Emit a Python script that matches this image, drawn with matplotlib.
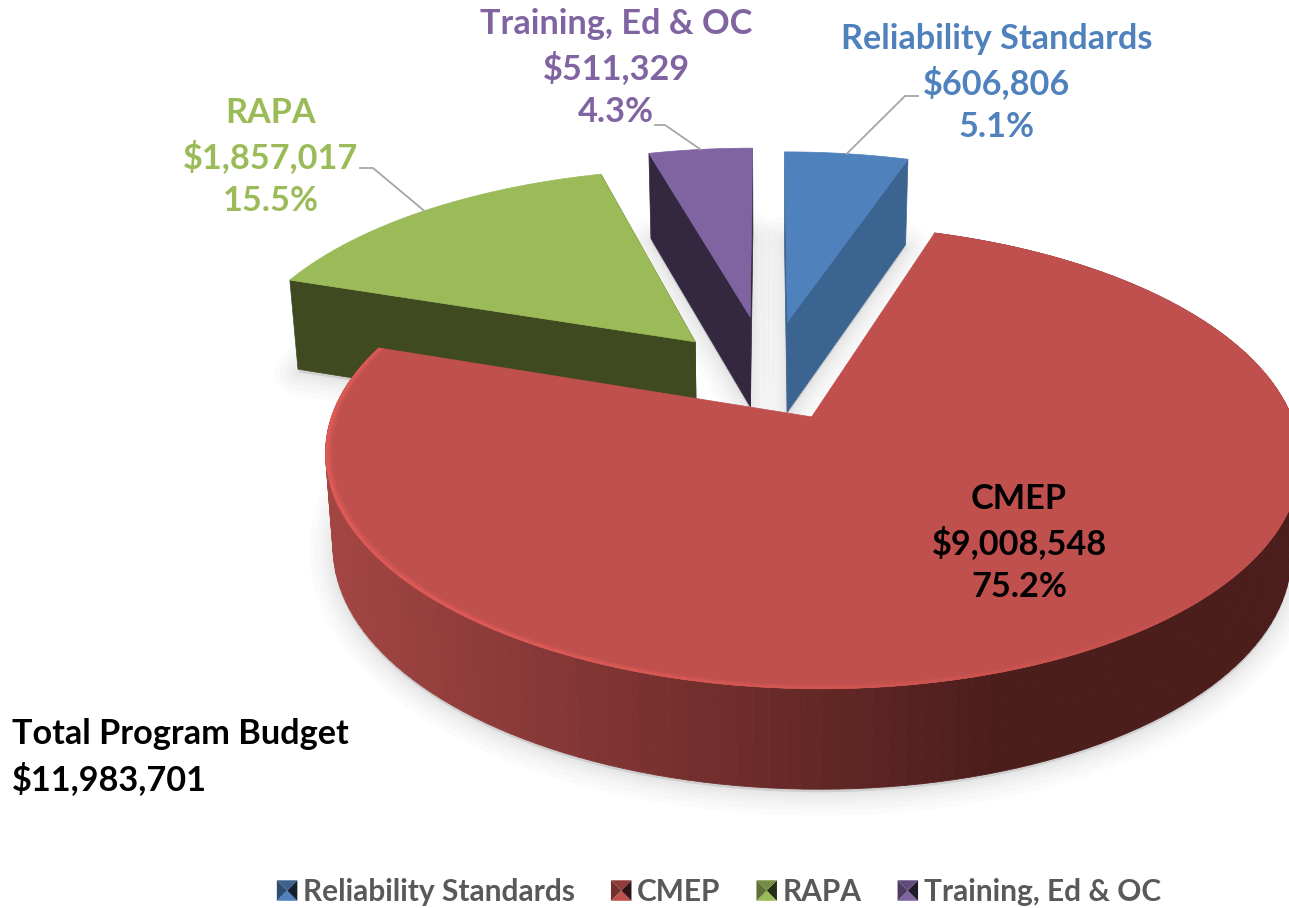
import numpy as np
import matplotlib
matplotlib.use("Agg")
import matplotlib.pyplot as plt
from matplotlib.patches import Polygon, Patch
from matplotlib.collections import PolyCollection
from matplotlib.legend_handler import HandlerBase
from matplotlib.colors import to_rgb

categories = ["Reliability Standards", "CMEP", "RAPA", "Training, Ed & OC"]
values = [606806, 9008548, 1857017, 511329]
total_label = "Total Program Budget\n$11,983,701"

top_colors = ["#4f81bd", "#c0504d", "#9bbb59", "#8064a2"]
side_colors = ["#3c6491", "#8a3836", "#404a20", "#33283f"]
label_colors = ["#4f81bd", "#000000", "#9bbb59", "#8064a2"]
explode = [0.27, 0.20, 0.23, 0.295]
radius = [1.0, 0.98, 0.985, 1.0]
label_pos = [(997, 83), (1019, 543), (271, 157), (616, 68)]
leader_elbow = [(905, 96), (665, 125), (373, 168)]
leader_end = [(918, 96), (655, 125), (360, 168)]

plt.rcParams["font.family"] = ["Lato", "DejaVu Sans"]
fig = plt.figure(figsize=(12.89, 9.08), dpi=100)
ax = fig.add_axes([0, 0, 1, 1])
ax.set_xlim(0, 1289)
ax.set_ylim(908, 0)
ax.axis("off")

CX, CY, RX, RY, K, DEPTH, TAPER = 768, 377, 475, 216, 0.17, 92, 0.017


def proj(x, y, h=0.0):
    x, y = np.asarray(x, float), np.asarray(y, float)
    w = 1 / (1 - K * y)
    return np.column_stack([CX + RX * x * w * (1 - TAPER * h),
                            CY + RY * y * w + DEPTH * h * w ** 0.4])


fractions = np.array(values) / sum(values)
edges = np.concatenate([[0], np.cumsum(fractions)]) * 2 * np.pi


def wedge(i, n=160):
    a0, a1 = edges[i], edges[i + 1]
    mid = (a0 + a1) / 2
    ex, ey = explode[i] * np.sin(mid), -explode[i] * np.cos(mid)
    th = np.linspace(a0, a1, n)
    return th, ex, ey


def outer(th, ex, ey, r=1.0, h=0.0):
    return proj(ex + r * np.sin(th), ey - r * np.cos(th), h)


def mix(c1, c2, t):
    c1, c2 = np.array(to_rgb(c1)), np.array(to_rgb(c2))
    return c1 + (c2 - c1) * t


def shadow(points, z):
    for lw in (34, 26, 19, 13, 8, 4):
        ax.add_patch(Polygon(points, closed=True, fc=(0, 0, 0, 0.016), ec=(0, 0, 0, 0.016),
                             lw=lw, joinstyle="round", zorder=z))


for i in range(4):
    th, ex, ey = wedge(i)
    base = np.vstack([proj([ex], [ey], 1.0), outer(th, ex, ey, r=radius[i], h=1.0)])
    shadow(base + np.array([0, 3]), 1)

for z, i in enumerate([0, 3, 2, 1]):
    th, ex, ey = wedge(i)
    zb = 3 + z * 3
    apex_t, apex_b = proj([ex], [ey], 0.0)[0], proj([ex], [ey], 1.0)[0]
    rim_t, rim_b = outer(th, ex, ey, r=radius[i]), outer(th, ex, ey, r=radius[i], h=1.0)
    if i == 1:
        xs = (rim_t[:-1, 0] + rim_t[1:, 0]) / 2
        cols = []
        for x in xs:
            t = np.clip((x - 330) / (1000 - 330), 0, 1)
            cols.append(mix("#a34543", "#4b1d1b", t))
        quads = [np.vstack([rim_t[j], rim_t[j + 1], rim_b[j + 1], rim_b[j]]) for j in range(len(xs))]
        ax.add_collection(PolyCollection(quads, facecolors=cols, edgecolors=cols, linewidths=0.6, zorder=zb))
    else:
        for k in (0, -1):
            ax.add_patch(Polygon([apex_t, rim_t[k], rim_b[k], apex_b], closed=True,
                                 fc=side_colors[i], ec=side_colors[i], lw=0.5, zorder=zb))
    ax.add_patch(Polygon(np.vstack([apex_t, rim_t]), closed=True, fc=top_colors[i],
                         ec=top_colors[i], lw=0.5, zorder=zb + 1))
    if i == 1:
        for r, strong, order in ((0.988, 0.45, 2), (0.994, 1.0, 3)):
            inner = outer(th, ex, ey, r=r * radius[i])
            quads, cols = [], []
            for j in range(len(th) - 1):
                deg = np.degrees(th[j])
                strength = np.clip((deg - 130) / 80, 0, 1) * strong
                quads.append(np.vstack([rim_t[j], rim_t[j + 1], inner[j + 1], inner[j]]))
                cols.append(mix("#c0504d", "#dd5a56", strength))
            ax.add_collection(PolyCollection(quads, facecolors=cols, edgecolors=cols,
                                             linewidths=0.2, zorder=zb + order))

leader_idx = [0, 3, 2]
for i, name in enumerate(categories):
    text = f"{name}\n${values[i]:,}\n{fractions[i] * 100:.1f}%"
    ax.text(*label_pos[i], text, ha="center", va="center", color=label_colors[i],
            fontsize=24.7, fontweight="bold", linespacing=1.42, zorder=30)
for n, i in enumerate(leader_idx):
    th, ex, ey = wedge(i)
    mid = np.array([(edges[i] + edges[i + 1]) / 2])
    anchor = outer(mid, ex, ey, r=radius[i])[0]
    pts = np.array([anchor, leader_elbow[n], leader_end[n]])
    ax.plot(pts[:, 0], pts[:, 1], color="#a6a6a6", lw=1.3, zorder=25)

ax.text(12, 757, total_label, ha="left", va="center", color="black", fontsize=24.7,
        fontweight="bold", linespacing=1.42, zorder=30)


class BevelHandler(HandlerBase):
    def create_artists(self, legend, orig, xd, yd, width, height, fontsize, trans):
        s = height
        x0, y0 = -xd + (width - s) / 2, -yd
        c = (x0 + s / 2, y0 + s / 2)
        a, b, d, e = (x0, y0), (x0 + s, y0), (x0 + s, y0 + s), (x0, y0 + s)
        base = np.array(to_rgb(orig.get_facecolor()[:3]))
        shades = [(a, b, 1.0), (b, d, 0.25), (d, e, 0.75), (e, a, 0.6)]
        return [Polygon([p, q, c], closed=True, fc=tuple(base * f), lw=0, transform=trans)
                for p, q, f in shades]


handles = [Patch(facecolor=c, label=n) for c, n in zip(top_colors, categories)]
ax.legend(handles=handles, ncol=4, loc="center", bbox_to_anchor=(719 / 1289, 1 - 892 / 908),
          frameon=False, prop={"size": 21.5, "weight": "bold"}, labelcolor="#595959",
          handler_map={Patch: BevelHandler()}, handlelength=0.68, handleheight=0.68,
          handletextpad=0.2, columnspacing=1.2, borderpad=0)

fig.savefig("out.png", dpi=100)
